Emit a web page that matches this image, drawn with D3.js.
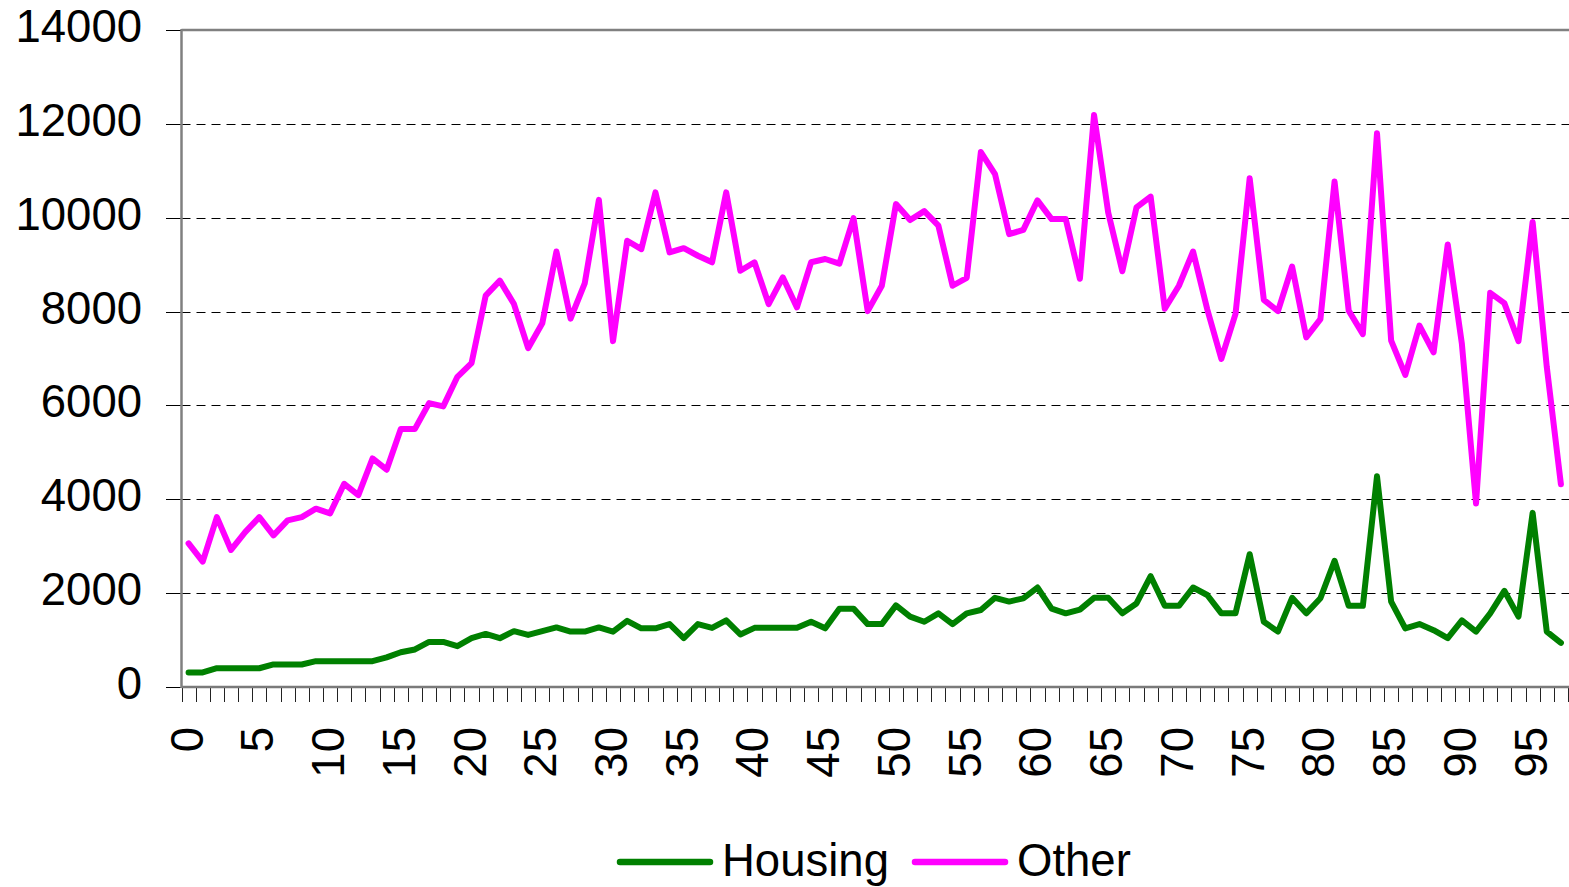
<!DOCTYPE html>
<html>
<head>
<meta charset="utf-8">
<script src="https://cdn.jsdelivr.net/npm/d3@7"></script>
<style>
  html, body { margin: 0; padding: 0; background: #fff; }
  svg { display: block; }
  text { font-family: "Liberation Sans", Arial, sans-serif; fill: #000; }
</style>
</head>
<body>
<svg id="chart" width="1569" height="887"></svg>
<script>
const categories = d3.range(0, 98).map(String);
const xTickLabels = ["0","5","10","15","20","25","30","35","40","45","50","55","60","65","70","75","80","85","90","95"];
const yTickValues = [0, 2000, 4000, 6000, 8000, 10000, 12000, 14000];
const seriesNames = ["Housing", "Other"];
const seriesColors = ["#008000", "#ff00ff"];

const housing = [310,310,400,400,400,400,480,480,480,550,
  550,550,550,550,630,740,800,960,960,870,
  1040,1130,1040,1190,1110,1190,1270,1180,1180,1270,
  1180,1410,1250,1250,1340,1040,1340,1260,1420,1120,
  1260,1260,1260,1260,1390,1250,1670,1670,1340,1340,
  1740,1500,1390,1570,1340,1570,1640,1900,1820,1890,
  2120,1670,1570,1650,1900,1900,1570,1780,2360,1730,
  1730,2120,1960,1570,1570,2830,1390,1180,1900,1570,
  1890,2690,1730,1730,4490,1820,1250,1340,1210,1040,
  1420,1180,1570,2050,1500,3710,1180,940];

const other = [3060,2670,3620,2920,3300,3620,3230,3550,3620,3800,
  3700,4330,4090,4870,4630,5500,5500,6050,5980,6610,
  6900,8340,8660,8160,7220,7750,9280,7850,8600,10380,
  7370,9510,9330,10540,9260,9350,9190,9050,10540,8870,
  9050,8160,8730,8090,9050,9120,9020,9990,8010,8550,
  10290,9950,10140,9830,8550,8720,11400,10930,9650,9740,
  10370,9970,9970,8700,12190,10110,8860,10220,10450,8060,
  8550,9280,8050,6990,7950,10840,8250,8010,8960,7450,
  7840,10770,8020,7520,11800,7380,6650,7700,7130,9430,
  7310,3910,8400,8180,7370,9910,6820,4320];

const series = [housing, other];

const svg = d3.select("#chart");
const plotLeft = 181.5, plotRight = 1568, plotTop = 30, plotBottom = 687;
const fontSize = 45.5;

const xBand = d3.scaleBand().domain(categories).range([plotLeft, plotRight]).paddingInner(0).paddingOuter(0);
const x = d3.scalePoint().domain(categories).range([plotLeft, plotRight]).padding(0.5);
const y = d3.scaleLinear().domain([0, 14000]).range([plotBottom, plotTop]);

// gridlines
svg.append("g").selectAll("line").data(yTickValues.filter(v => v > 0 && v < 14000)).join("line")
  .attr("x1", plotLeft).attr("x2", plotRight + 2)
  .attr("y1", d => Math.round(y(d)) + 0.5).attr("y2", d => Math.round(y(d)) + 0.5)
  .attr("stroke", "#000").attr("stroke-width", 1).attr("stroke-dasharray", "9,6");

// y ticks
svg.append("g").selectAll("line").data(yTickValues).join("line")
  .attr("x1", 166).attr("x2", plotLeft)
  .attr("y1", d => Math.round(y(d)) + 0.5).attr("y2", d => Math.round(y(d)) + 0.5)
  .attr("stroke", "#000").attr("stroke-width", 1);

// y labels
svg.append("g").selectAll("text").data(yTickValues).join("text")
  .attr("x", 142).attr("y", d => y(d) + 12)
  .attr("text-anchor", "end").attr("font-size", fontSize)
  .text(d => d);

// x ticks at category boundaries
const boundaries = categories.map(c => xBand(c)).concat([plotRight]);
svg.append("g").selectAll("line").data(boundaries).join("line")
  .attr("x1", d => Math.round(d) + 0.5).attr("x2", d => Math.round(d) + 0.5)
  .attr("y1", plotBottom).attr("y2", plotBottom + 15)
  .attr("stroke", "#222").attr("stroke-width", 1);

// x labels
svg.append("g").selectAll("text").data(xTickLabels).join("text")
  .attr("transform", d => `translate(${x(d) + 14},727) rotate(-90)`)
  .attr("text-anchor", "end").attr("font-size", fontSize)
  .text(d => d);

// frame: top border, left axis, bottom axis
svg.append("line").attr("x1", plotLeft).attr("x2", 1569).attr("y1", plotTop).attr("y2", plotTop)
  .attr("stroke", "#808080").attr("stroke-width", 2.5);
svg.append("line").attr("x1", plotLeft).attr("x2", 1569).attr("y1", plotBottom).attr("y2", plotBottom)
  .attr("stroke", "#7a7a7a").attr("stroke-width", 2.5);
svg.append("line").attr("x1", plotLeft).attr("x2", plotLeft).attr("y1", plotTop - 1).attr("y2", plotBottom + 1)
  .attr("stroke", "#808080").attr("stroke-width", 2.5);

// lines
const line = d3.line().x((d, i) => x(categories[i])).y(d => y(d));
svg.append("g").selectAll("path").data(series).join("path")
  .attr("d", d => line(d))
  .attr("fill", "none")
  .attr("stroke", (d, i) => seriesColors[i])
  .attr("stroke-width", 6)
  .attr("stroke-linejoin", "round")
  .attr("stroke-linecap", "round");

// legend
const legendX = [620, 915];
const lg = svg.append("g").selectAll("g").data(seriesNames).join("g");
lg.append("line")
  .attr("x1", (d, i) => legendX[i]).attr("x2", (d, i) => legendX[i] + 90)
  .attr("y1", 862).attr("y2", 862)
  .attr("stroke", (d, i) => seriesColors[i]).attr("stroke-width", 6.5).attr("stroke-linecap", "round");
lg.append("text")
  .attr("x", (d, i) => legendX[i] + 102).attr("y", 876)
  .attr("font-size", fontSize)
  .text(d => d);
</script>
</body>
</html>
